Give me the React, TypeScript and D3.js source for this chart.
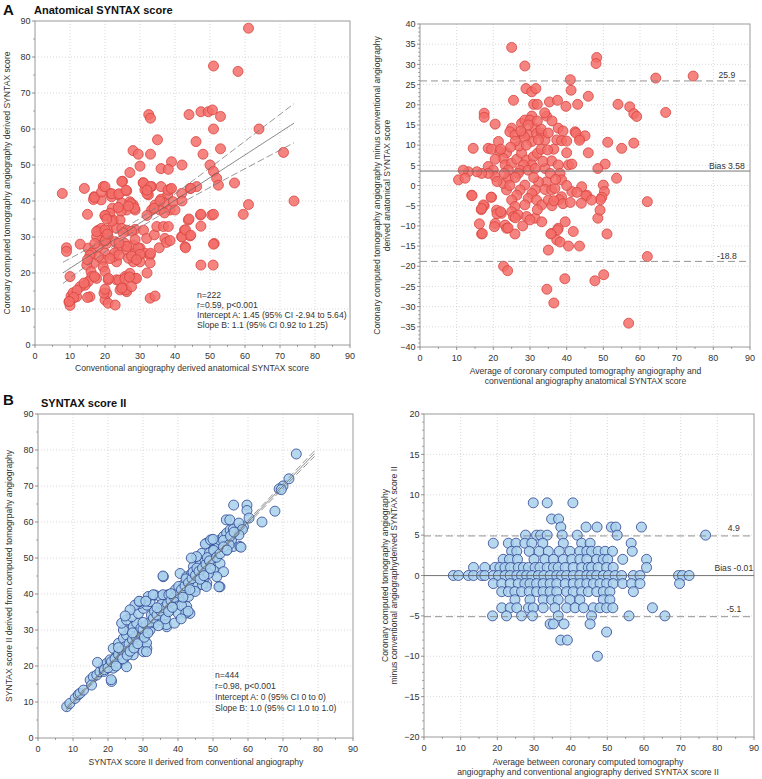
import React from "react";
import * as d3 from "d3";

const FONT = "'Liberation Sans', Arial, Helvetica, sans-serif";
type Pt = [number, number];

// ---------- Tick labels ----------
const scoreTicks = [0, 10, 20, 30, 40, 50, 60, 70, 80, 90];
const diffTicksA = [-40, -35, -30, -25, -20, -15, -10, -5, 0, 5, 10, 15, 20, 25, 30, 35, 40];
const diffTicksB = [-20, -15, -10, -5, 0, 5, 10, 15, 20];

// ---------- A: anatomical SYNTAX score, [conventional, CCTA] ----------
const anatomicalScatter: Pt[] = [
  [61,88],[51,77.5],[58,76],[47.4,64.8],[49.5,64.8],[50.7,65.3],[32.5,64],[33,63],[44,64],[53,63.5],[51,60],[64,60],[35,57],[46,56.5],[53,54.5],[71,53.5],[28,54],[29.5,53],[33,53],[48,53],[42,50],[50,50],[51,48.2],[51.9,46.3],[52.4,44.4],[39,50.9],[36,49],[38.1,48.8],[30,49.7],[27.1,47.9],[25,45.5],[57,45],[74,40],[59.5,36.3],[61,39],[7.8,42.1],[14.1,43.5],
  [24.8,45.4],[21.4,42.1],[19.5,44],[16.9,41.2],[18.9,40.3],[21.9,41.2],[23.8,41.7],[26.2,42.8],[30.9,45.1],[31.4,43.1],[33.3,44],[32.4,41.7],[36,44],[38.6,43.3],[37.9,41.7],[36,40.5],[37.1,39.4],[34.3,38.9],[33.3,37.5],[35.7,37.5],[38.6,37.5],[39.5,39.8],[41.9,42.1],[44.3,43.5],[46.2,44],[24.8,39.4],[27.1,39.8],[28.1,38.9],[28.6,37.5],[26.2,37.5],[24.6,37.1],[22.1,38],[21.4,36.6],[20,35.9],[22.4,34.7],[24.3,34.7],[18.1,31.9],[19,32.4],[20.9,31.9],[23.3,32.4],[24.8,32.4],[26.2,31.9],[28.6,32.1],[31,31.9],[31.9,29.6],[34.1,30.6],[34.8,32.9],[36.7,32.9],[38.1,32.9],[37.1,29.6],
  [15.2,26.9],[16.2,25.5],[18.1,27.3],[19,29.1],[17.6,30.1],[17.1,28.2],[20.5,28.2],[20.9,30.1],[22.9,28.7],[23.8,26.4],[25.7,28.2],[26.2,26.4],[28.1,27.8],[28.6,25.5],[30,26.9],[31.4,25.5],[32.9,25],[30,23.1],[28.1,23.1],[26.7,24.1],[23.3,23.1],[22.4,24.5],[20,25.5],[19.5,23.6],[18.1,24.5],[16.7,22.7],[14.8,22.2],[16,20.4],[19.5,21.7],[20,20.4],[17.6,18.5],[16.2,19],[15.2,17.6],[14.3,16.6],[12.9,16.2],[20.9,18.1],[23.3,18.1],[25.7,19],[27.1,19.9],[28.6,18.5],[24.8,16.2],[26.2,14.8],[24.3,15.3],[20.5,14.3],[20,12.5],[20.9,11.6],[22.9,11.1],[15.7,13.4],[10.3,13.6],[9.7,12],[10.9,13],[11.9,13.4],[32.9,13],[34.3,13.6],
  [41.9,30.1],[44.3,30.3],[42.7,31.9],[43.8,34.7],[47.3,36.1],[50.5,36.1],[42.9,27.3],[51.2,28.2],[47.4,22.2],[50.9,22.2],[47.4,33],[42,40],[35.7,40],[9,27],[9,26],[12.9,28],[10,19],[15,36.3],[15.7,25],[15,23.7],[17,19],[10,11],[10.9,14.5],[32,20],[32.9,22.8],[33,25.5],[35.5,27],[37.6,28.5],[38.6,29],[22.8,25.6],[24,25],[21.4,24],[21,18.5],[24,18],[25.7,18.4],[26,15.3],[27.6,16.2],[29,18.5],[27,18.9],[24.8,15.8],[29.5,27],[30,25.2],[27.6,24.7],[29,23.7],[27.6,31.6],[25.2,31.1],[26.2,27.4],[24,28.3],[28.6,29.3],[17.6,31.5],[20.1,29],[20,32],[20.7,30.8],[22,34.4],[20,36],[20.5,35],[23.8,38.2],[27.4,39.3],[28.4,38],[26.7,38.6],[16.7,40.4],[32,36],[34,38],[37,36.7],[40,37.5],[44,35],[47.4,36.3],[51,36.3],[42,30],[43,32],[44.5,30.5],[43,27],[51,28],[17,41],[19,42.5],[20,44],[22,42],[24,42],[26,43],[32,42],[31,45],[33,44],[32,43],[38,43],[39,43.5],[44.5,43.5],[19.7,14.4],[20,15.5],[12,15.2],[11.1,13.2],[9.8,12.1],[14,17.2],[15,13.2]
];
const anatomicalFit = { intercept: 15, slope: 0.63, xFrom: 8, xTo: 74, meanX: 30, bandA: 1.3, bandB: 0.12 };
const anatomicalStats = ["n=222", "r=0.59, p<0.001", "Intercept A: 1.45 (95% CI -2.94 to 5.64)", "Slope B: 1.1 (95% CI 0.92 to 1.25)"];

// ---------- A: Bland-Altman, [average, difference] ----------
const anatomicalBA: Pt[] = [
  [25,34.2],[28.6,29.6],[48.2,31.7],[48,30.2],[41,26.2],[41.2,23.6],[64.3,26.6],[74.5,27.1],[28.9,24],[30.5,23.2],[31.6,24],[25.5,21.1],[31,20.1],[32,20.1],[35.3,20.7],[37.5,21.1],[39.8,19.6],[43,20.1],[45.9,22.1],[54,20.1],[57.2,19.5],[58.3,17.8],[59.1,17.1],[67,18.1],[58.3,10.5],[62,-4],[51,-12],[62,-17.6],[22.8,-20],[23.9,-21.1],[34.6,-25.7],[36.5,-29.1],[39.5,-23.1],[47.7,-23.6],[50.1,-22.1],[56.9,-34.1],[17.5,-5],[16.7,-6],[16.2,-9.5],[16.8,-12],[35,-16],[40.5,-15],[43.5,-15],[48.5,-8.1],[49.1,-6.1],
  [17.5,17.9],[17.5,16.9],[20.5,15.2],[14.5,9.2],[25,14.2],[24.5,13.3],[25.9,12.5],[27.7,15.4],[28.6,16.2],[30.5,17.2],[30,16.2],[27.9,12.9],[29.5,12.5],[31.4,14.2],[31.8,12.9],[33.2,12.9],[34.1,11.3],[30.5,10.9],[32.3,11.3],[34.5,17.2],[37.7,14.2],[37.3,11.3],[38.6,11.1],[40,8.1],[42.3,13.3],[43.6,11.7],[45,12.3],[45.9,8.1],[51.2,10.7],[55,9.2],[50.5,5.3],[53.6,1.8],[50,0.1],[50.3,-1.5],[49.6,-2.9],
  [18.6,9.2],[19.5,9],[21.4,10.9],[21.8,8.4],[23.6,8.1],[22.7,6.7],[20.5,6.5],[18.6,4.7],[20,3.8],[23.2,5.1],[25,5.5],[26.4,6.5],[27.7,8],[29.1,6.3],[30.9,7.1],[30.5,5.1],[28.2,5.1],[27.3,3.8],[29.5,3.8],[31.4,4.2],[34.1,4.2],[35.9,6.1],[37.7,5.1],[40.5,5.1],[41.4,5.3],[38.2,3],[38.6,1.4],[34.5,0.9],[32.3,0.9],[34.1,-1],[31.4,-1.1],[30.5,-2],[29.5,-3.2],[31.8,-3.6],[33.2,-4.8],[35,-3.6],[35.9,-1.1],[36.8,-0.7],[38.6,-2.8],[41.4,-1.5],[44.1,-0.3],[45.5,-2.4],[28.6,0.1],[27.3,-1.1],[26.4,-2.4],[25,-3.6],[25.9,-5.2],[25,-6.5],[25.5,-7.7],[26.8,-7.3],[28.6,-4.8],[29.1,-7.7],[31.4,-8.1],[33.2,-9],
  [23.6,-1.1],[22.7,0.5],[24.1,1.8],[24.1,3.8],[20.5,2.2],[18.6,3],[16.8,3],[15.5,3.4],[13.2,3.4],[11.8,3.8],[10.5,1.4],[12.3,1.8],[14.1,-2.4],[19.5,-2.9],[17.3,-4.8],[16.8,-5.7],[20.9,-6.1],[22.2,-6.9],[20.5,-9.4],[20.3,-10.2],[23.2,-9.8],[23.6,-10.6],[17,-11.9],[25.9,-12],[35.9,-11.9],[37.7,-10.6],[37.3,-13.5],[39.6,-9],[41.8,-11.4],[14.2,-2.5],[19.4,-2.9],[21,-7],[22,-6.5],[26,-8],[24,-10.5],[28,-10],[30,-8.5],[32,-6],[36,-5],[37.5,-11],[38.2,-14],[35.7,-12],
  [42.5,13],[43.5,11.2],[48.5,4.2],[49.2,-3.5],[45.2,-2.6],[42.8,-1.7],[40,0],[38,-3.5],[36.5,-3.8],[39,-4.5],[41,-4.2],[44,-4.4],[46.8,-3.6],[27,9.8],[28.5,12],[26,11],[29,10],[32,8],[33,9],[26.8,3],[31,2],[35.5,3],[37,1.5],[33.5,6],[24.5,0],[26,2],[21,1],[23,3],[33,14],[35,13],[36,16],[32,16],[34,18],[29.5,15],[27.5,13.5],[40,11],[39,13.5],[22,9],[24.7,9.5],[36.5,9],[34.8,8.8]
];
const anatomicalLimits = { bias: 3.58, upper: 25.9, lower: -18.8 };

// ---------- B: SYNTAX score II, [conventional, CCTA] ----------
const ss2Scatter: Pt[] = [
  [8.2,8.7],[9.1,9.6],[10.6,11],[11.5,12],[12,12.4],[13,13.3],[14.9,16.1],[15.8,17],[16.8,17.5],[17.7,18.4],[15.3,14.7],[18.7,19.8],[19.6,20.7],[20.6,21.7],[21,15.7],[21.5,19.4],[23,20.7],[24.4,21.7],[25.3,19.8],[22.5,23.1],[23.4,24],
  [21.5,24.9],[23,26.3],[24.4,27.7],[25.3,28.6],[26.3,30],[27.2,30.9],[28.2,31.9],[24.4,30],[23.9,31.9],[25.3,32.8],[26.8,33.7],[28.7,34.6],[30.1,36],[31.1,36.9],[32,37.9],[29.1,37.4],[27.7,36.9],[26.3,35.6],[24.9,33.9],[29.1,27.2],[30.6,29.1],[31.1,24.9],[27.2,23.1],[30.1,24],[32,30],[33.4,31.9],[34.9,32.8],[36.3,34.2],[36.8,30.9],[37.7,35.6],[39.1,36.9],[39.6,38.3],[40.6,39.3],[42,40.2],[42.5,36.5],[43.4,34.6],[43,39.3],[41.5,42.5],[35.8,44.8],[40.6,45.7],[42.5,44.8],[43.9,45.7],[44.4,47.6],[46.3,48.1],[47.7,49.4],[49.1,50.8],[50.1,52.7],[51.1,54.1],[52,55],[53,56],[53.9,56.9],[54.9,57.8],[55.8,58],[57.7,58.2],[58.7,58.7],[48.2,43],[47.2,43.9],[44.4,41.1],[45.3,42],[50.1,46.7],[52,48.5],[53,46.2],[52,42],[51.1,44.8],[48.7,45.7],[53.9,52.2],[55.8,53.2],[57.7,53.2],[55.3,55],[48.2,54.1],[49.6,55],[46.8,51.3],[45.3,50.4],[31.5,39.3],[33.4,39.7],[34.9,39.3],[36.8,39.7],[29.1,37.9],
  [20.9,16.2],[18.9,18.5],[17,21],[28.9,38],[30.8,38],[31,26.4],[31,24],[32.9,39.8],[35.7,39.8],[37.4,39.8],[36.7,31.5],[39,31.9],[40,34.7],[41,36.8],[42.2,34.7],[42.9,35.2],[40.9,33.1],[44.9,40.7],[47,42.6],[48.1,42.1],[51.7,42],[35.7,45],[43.8,50],
  [73.8,78.9],[71.7,72],[70,70],[68.9,69.2],[69.5,69],[67.7,63],[64,60],[55.9,64.7],[59.7,64.7],[59.7,63.2],[60.3,61.1],[53.8,60.6],[54.8,60.6],[57.4,59.7],[58.4,57.9],[57.4,56.4],[58,53],[47.8,53.9],[49.3,55],[50,55.2],[53,54.9],[54.6,53.7],[49,51.4],[50,50],
  [19,19],[20,19.5],[21,21.2],[22,22],[22.3,20],[23,23.2],[24,24.3],[24.2,22],[25,25.4],[25.5,23],[26,26.2],[26.3,24.1],[27,27.3],[27.4,25],[28,28.1],[28.5,26.2],[29,29.3],[29.4,30.5],[30,30.2],[30.4,28],[31,31.3],[31.4,29.2],[32,32.2],[32.4,34.1],[33,33.3],[33.3,35.2],[34,34.2],[34.4,31.2],[35,35.3],[35.3,37.1],[36,36.2],[36.4,33.1],[37,37.3],[37.3,35.1],[38,38.2],[38.4,36.3],[39,39.1],[39.3,41.2],[40,40.3],[40.2,42.1],[41,41.2],[41.4,39.1],[42,42.3],[42.3,44.2],[43,43.1],[43.4,41.2],[44,44.3],[44.3,46.1],[45,45.2],[45.4,47.2],[46,46.3],[46.3,44.1],[47,47.2],[47.4,45.1],[48,48.3],[48.4,50.1],[49,49.2],[49.3,47.1],[50.2,52.1],[51,50.2],[52,51.2],[53,53.1],[54,52.2],[55,56.1],[56,57.2],[38,40.1],[34,36.2],[30,32.1],[27,29.2],[23,25.1]
];
const ss2Fit = { intercept: 0, slope: 1, xFrom: 8, xTo: 79, meanX: 35, bandA: 0.2, bandB: 0.017 };
const ss2Stats = ["n=444", "r=0.98, p<0.001", "Intercept A: 0 (95% CI 0 to 0)", "Slope B: 1.0 (95% CI 1.0 to 1.0)"];

// ---------- B: Bland-Altman, rows of [difference, averages] ----------
const ss2BARows: [number, number[]][] = [
  [9, [29.8, 33.6, 40.6]],
  [7, [34.8, 36.7]],
  [6, [37.3, 44.2, 47.2, 51.1, 52.3, 59.3]],
  [5, [27.7, 30.7, 31.8, 33.6, 37.7, 41.8, 52.7, 76.8]],
  [4, [18.9, 23, 25.1, 27.5, 29.4, 32.4, 38, 43, 45.3, 56.5]],
  [3, [23.9, 25.3, 28.7, 31.4, 33.9, 36.9, 39.8, 42.5, 44.4, 45.7, 47.5, 49.4, 51.4, 56.8]],
  [2, [21.6, 23.3, 25.5, 30, 33, 35.3, 38, 40.3, 42.5, 44.4, 47.1, 48.9, 50.1, 54.2, 60.7]],
  [1, [13.5, 16.6, 19.4, 20.7, 22.1, 23.6, 25.7, 27.1, 28.5, 30.3, 31.6, 33.6, 35.3, 36.6, 38.5, 40.7, 43, 44.8, 45.7, 47.5, 49.8, 51.6, 60.7]],
  [0, [8, 9.4, 12.1, 13.5, 15.7, 16.6, 18.9, 20.3, 22.1, 23.5, 25.3, 26.6, 28, 29.4, 31.2, 32.7, 34.4, 36.2, 37.5, 38.9, 40.7, 42.5, 44.4, 45.7, 47.1, 48.9, 50.3, 52.1, 53.9, 57.1, 58.9, 69.4, 70.5, 72.3]],
  [-1, [18.9, 21.2, 23.5, 25.7, 27.5, 28.9, 30.7, 32.5, 34.4, 36.2, 38.5, 40.7, 42.5, 44.4, 46.2, 48, 49.8, 51.6, 54.2, 56.6, 58.9, 69.7]],
  [-2, [21.2, 23, 24.8, 26.6, 28.7, 30.7, 32.5, 34.4, 36.2, 38.9, 40.7, 43, 44.8, 47.1, 48.9, 50.7, 57.1]],
  [-3, [24.8, 28.9, 32.5, 34.8, 36.6, 39.8, 42.5, 48.9, 50.7]],
  [-4, [21.2, 23.5, 25.3, 28.5, 29.8, 32.5, 35.7, 38.9, 41.2, 43.5, 46.2, 48, 49.8, 51.5, 62.3]],
  [-5, [18.7, 22.5, 26.6, 29.6, 36.6, 45.7, 55.9, 65.7]],
  [-6, [34.4, 35.3, 38.2, 45.3]],
  [-7, [49.8]],
  [-8, [37.3, 39.1]],
  [-10, [47.3]]
];
const ss2BA: Pt[] = ss2BARows.flatMap(([d, avgs]) => avgs.map((a) => [a, d] as Pt));
const ss2Limits = { bias: -0.01, upper: 4.9, lower: -5.1 };

// ---------- helpers ----------
const fmt = (v: number) => (v < 0 ? `\u2212${-v}` : `${v}`);
type Scale = d3.ScaleLinear<number, number>;

interface PanelProps {
  l: number; r: number; t: number; b: number;
  xDom: [number, number]; yDom: [number, number];
  xTicks: number[]; yTicks: number[]; xMinor: number; yMinor: number;
  points: Pt[]; fill: string; stroke: string;
  overlay: (x: Scale, y: Scale) => React.ReactNode;
}

function Panel(p: PanelProps) {
  const x = d3.scaleLinear().domain(p.xDom).range([p.l, p.r]);
  const y = d3.scaleLinear().domain(p.yDom).range([p.b, p.t]);
  const xMin = d3.range(p.xDom[0], p.xDom[1] + 1e-9, p.xMinor).filter((v) => !p.xTicks.includes(v));
  const yMin = d3.range(p.yDom[0], p.yDom[1] + 1e-9, p.yMinor).filter((v) => !p.yTicks.includes(v));
  return (
    <g>
      {p.xTicks.filter((v) => v > p.xDom[0] && v < p.xDom[1]).map((v) => (
        <line key={"gx" + v} x1={x(v)} x2={x(v)} y1={p.t} y2={p.b} stroke="#c8c8c8" strokeWidth={0.7} strokeDasharray="1,2" />
      ))}
      {p.yTicks.filter((v) => v > p.yDom[0] && v < p.yDom[1]).map((v) => (
        <line key={"gy" + v} x1={p.l} x2={p.r} y1={y(v)} y2={y(v)} stroke="#c8c8c8" strokeWidth={0.7} strokeDasharray="1,2" />
      ))}
      <rect x={p.l} y={p.t} width={p.r - p.l} height={p.b - p.t} fill="none" stroke="#9a9a9a" strokeWidth={1} />
      {p.xTicks.map((v) => (
        <g key={"tx" + v}>
          <line x1={x(v)} x2={x(v)} y1={p.b} y2={p.b + 3} stroke="#777" strokeWidth={0.8} />
          <text x={x(v)} y={p.b + 14} textAnchor="middle" fontSize={9} fill="#333" fontFamily={FONT}>{fmt(v)}</text>
        </g>
      ))}
      {xMin.map((v) => (
        <line key={"mx" + v} x1={x(v)} x2={x(v)} y1={p.b} y2={p.b + 2} stroke="#777" strokeWidth={0.7} />
      ))}
      {p.yTicks.map((v) => (
        <g key={"ty" + v}>
          <line x1={p.l - 3} x2={p.l} y1={y(v)} y2={y(v)} stroke="#777" strokeWidth={0.8} />
          <text x={p.l - 4.5} y={y(v) + 3.2} textAnchor="end" fontSize={9} fill="#333" fontFamily={FONT}>{fmt(v)}</text>
        </g>
      ))}
      {yMin.map((v) => (
        <line key={"my" + v} x1={p.l - 2} x2={p.l} y1={y(v)} y2={y(v)} stroke="#777" strokeWidth={0.6} />
      ))}
      {p.points.map((d, i) => (
        <circle key={"p" + i} cx={x(d[0])} cy={y(d[1])} r={5} fill={p.fill} fillOpacity={0.85} stroke={p.stroke} strokeWidth={0.8} />
      ))}
      {p.overlay(x, y)}
    </g>
  );
}

function fitLines(fit: typeof anatomicalFit, x: Scale, y: Scale) {
  const xs = d3.range(fit.xFrom, fit.xTo + 0.01, 0.5);
  const mk = (s: number) =>
    d3.line<number>()
      .x((v) => x(v))
      .y((v) => y(fit.intercept + fit.slope * v + s * Math.sqrt(fit.bandA ** 2 + (fit.bandB * (v - fit.meanX)) ** 2)))(xs) || "";
  return (
    <g fill="none">
      <path d={mk(0)} stroke="#666" strokeWidth={0.8} />
      <path d={mk(1)} stroke="#777" strokeWidth={0.8} strokeDasharray="7,3" />
      <path d={mk(-1)} stroke="#777" strokeWidth={0.8} strokeDasharray="7,3" />
    </g>
  );
}

function baLines(lim: { bias: number; upper: number; lower: number }, x: Scale, y: Scale, labelX: number, off: number) {
  const [x0, x1] = x.domain();
  const items = [
    { v: lim.upper, t: `${lim.upper}`, dash: "7,4" },
    { v: lim.bias, t: `Bias ${lim.bias}`, dash: undefined },
    { v: lim.lower, t: `${lim.lower}`, dash: "7,4" }
  ];
  return (
    <g>
      {items.map((it) => (
        <g key={it.t}>
          <line x1={x(x0)} x2={x(x1)} y1={y(it.v)} y2={y(it.v)} stroke={it.dash ? "#888" : "#666"} strokeWidth={0.9} strokeDasharray={it.dash} />
          <text x={x(labelX)} y={y(it.v) - off} textAnchor="middle" fontSize={8.6} fill="#333" fontFamily={FONT}>{it.t}</text>
        </g>
      ))}
    </g>
  );
}

const txt = { fontFamily: FONT, fontSize: 8.6, fill: "#333" } as const;

export default function App() {
  const red = { fill: "#f36d68", stroke: "#d8443f" };
  const blue = { fill: "#a9d1ec", stroke: "#2c4191" };
  return (
    <svg width={762} height={779} style={{ position: "absolute", left: 0, top: 0, background: "#fff" }}>
      {/* titles */}
      <text x={3} y={15} fontSize={15} fontWeight="bold" fontFamily={FONT} fill="#111">A</text>
      <text x={34} y={13.5} fontSize={11} fontWeight="bold" fontFamily={FONT} fill="#111">Anatomical SYNTAX score</text>
      <text x={3} y={405} fontSize={15} fontWeight="bold" fontFamily={FONT} fill="#111">B</text>
      <text x={41} y={407} fontSize={11} fontWeight="bold" fontFamily={FONT} fill="#111">SYNTAX score II</text>

      {/* A left */}
      <Panel l={35} r={350} t={21} b={345} xDom={[0, 90]} yDom={[0, 90]} xTicks={scoreTicks} yTicks={scoreTicks} xMinor={5} yMinor={5}
        points={anatomicalScatter} {...red} overlay={(x, y) => fitLines(anatomicalFit, x, y)} />
      {anatomicalStats.map((s, i) => (
        <text key={s} x={197} y={297.5 + i * 10} {...txt}>{s}</text>
      ))}
      <text x={192} y={371} textAnchor="middle" {...txt}>Conventional angiography derived anatomical SYNTAX score</text>
      <text transform="translate(10,183) rotate(-90)" textAnchor="middle" {...txt}>Coronary computed tomography angiography derived SYNTAX score</text>

      {/* A right */}
      <Panel l={420} r={750} t={24} b={347} xDom={[0, 90]} yDom={[-40, 40]} xTicks={scoreTicks} yTicks={diffTicksA} xMinor={5} yMinor={1}
        points={anatomicalBA} {...red} overlay={(x, y) => baLines(anatomicalLimits, x, y, 83.7, 2.5)} />
      <text x={585.5} y={374} textAnchor="middle" {...txt}>Average of coronary computed tomography angiography and</text>
      <text x={585.5} y={383.5} textAnchor="middle" {...txt}>conventional angiography anatomical SYNTAX score</text>
      <text transform="translate(380,185.5) rotate(-90)" textAnchor="middle" {...txt}>Coronary computed tomography angiography minus conventional angiography</text>
      <text transform="translate(390,185.5) rotate(-90)" textAnchor="middle" {...txt}>derived anatomical SYNTAX score</text>

      {/* B left */}
      <Panel l={38} r={353} t={414} b={738} xDom={[0, 90]} yDom={[0, 90]} xTicks={scoreTicks} yTicks={scoreTicks} xMinor={5} yMinor={5}
        points={ss2Scatter} {...blue} overlay={(x, y) => fitLines(ss2Fit, x, y)} />
      {ss2Stats.map((s, i) => (
        <text key={s} x={215} y={677.5 + i * 11.3} {...txt}>{s}</text>
      ))}
      <text x={196} y={765} textAnchor="middle" {...txt}>SYNTAX score II derived from conventional angiography</text>
      <text transform="translate(12,576) rotate(-90)" textAnchor="middle" {...txt}>SYNTAX score II derived from computed tomogrpahy angiography</text>

      {/* B right */}
      <Panel l={424} r={754} t={414} b={737} xDom={[0, 90]} yDom={[-20, 20]} xTicks={scoreTicks} yTicks={diffTicksB} xMinor={5} yMinor={1}
        points={ss2BA} {...blue} overlay={(x, y) => baLines(ss2Limits, x, y, 84.5, 5)} />
      <text x={588} y={765} textAnchor="middle" {...txt}>Average between coronary computed tomography</text>
      <text x={588} y={775} textAnchor="middle" {...txt}>angiography and conventional angiography derived SYNTAX score II</text>
      <text transform="translate(388,575.5) rotate(-90)" textAnchor="middle" {...txt}>Coronary computed tomography angiography</text>
      <text transform="translate(397,575.5) rotate(-90)" textAnchor="middle" {...txt}>minus conventional angiographyderived SYNTAX score II</text>
    </svg>
  );
}
